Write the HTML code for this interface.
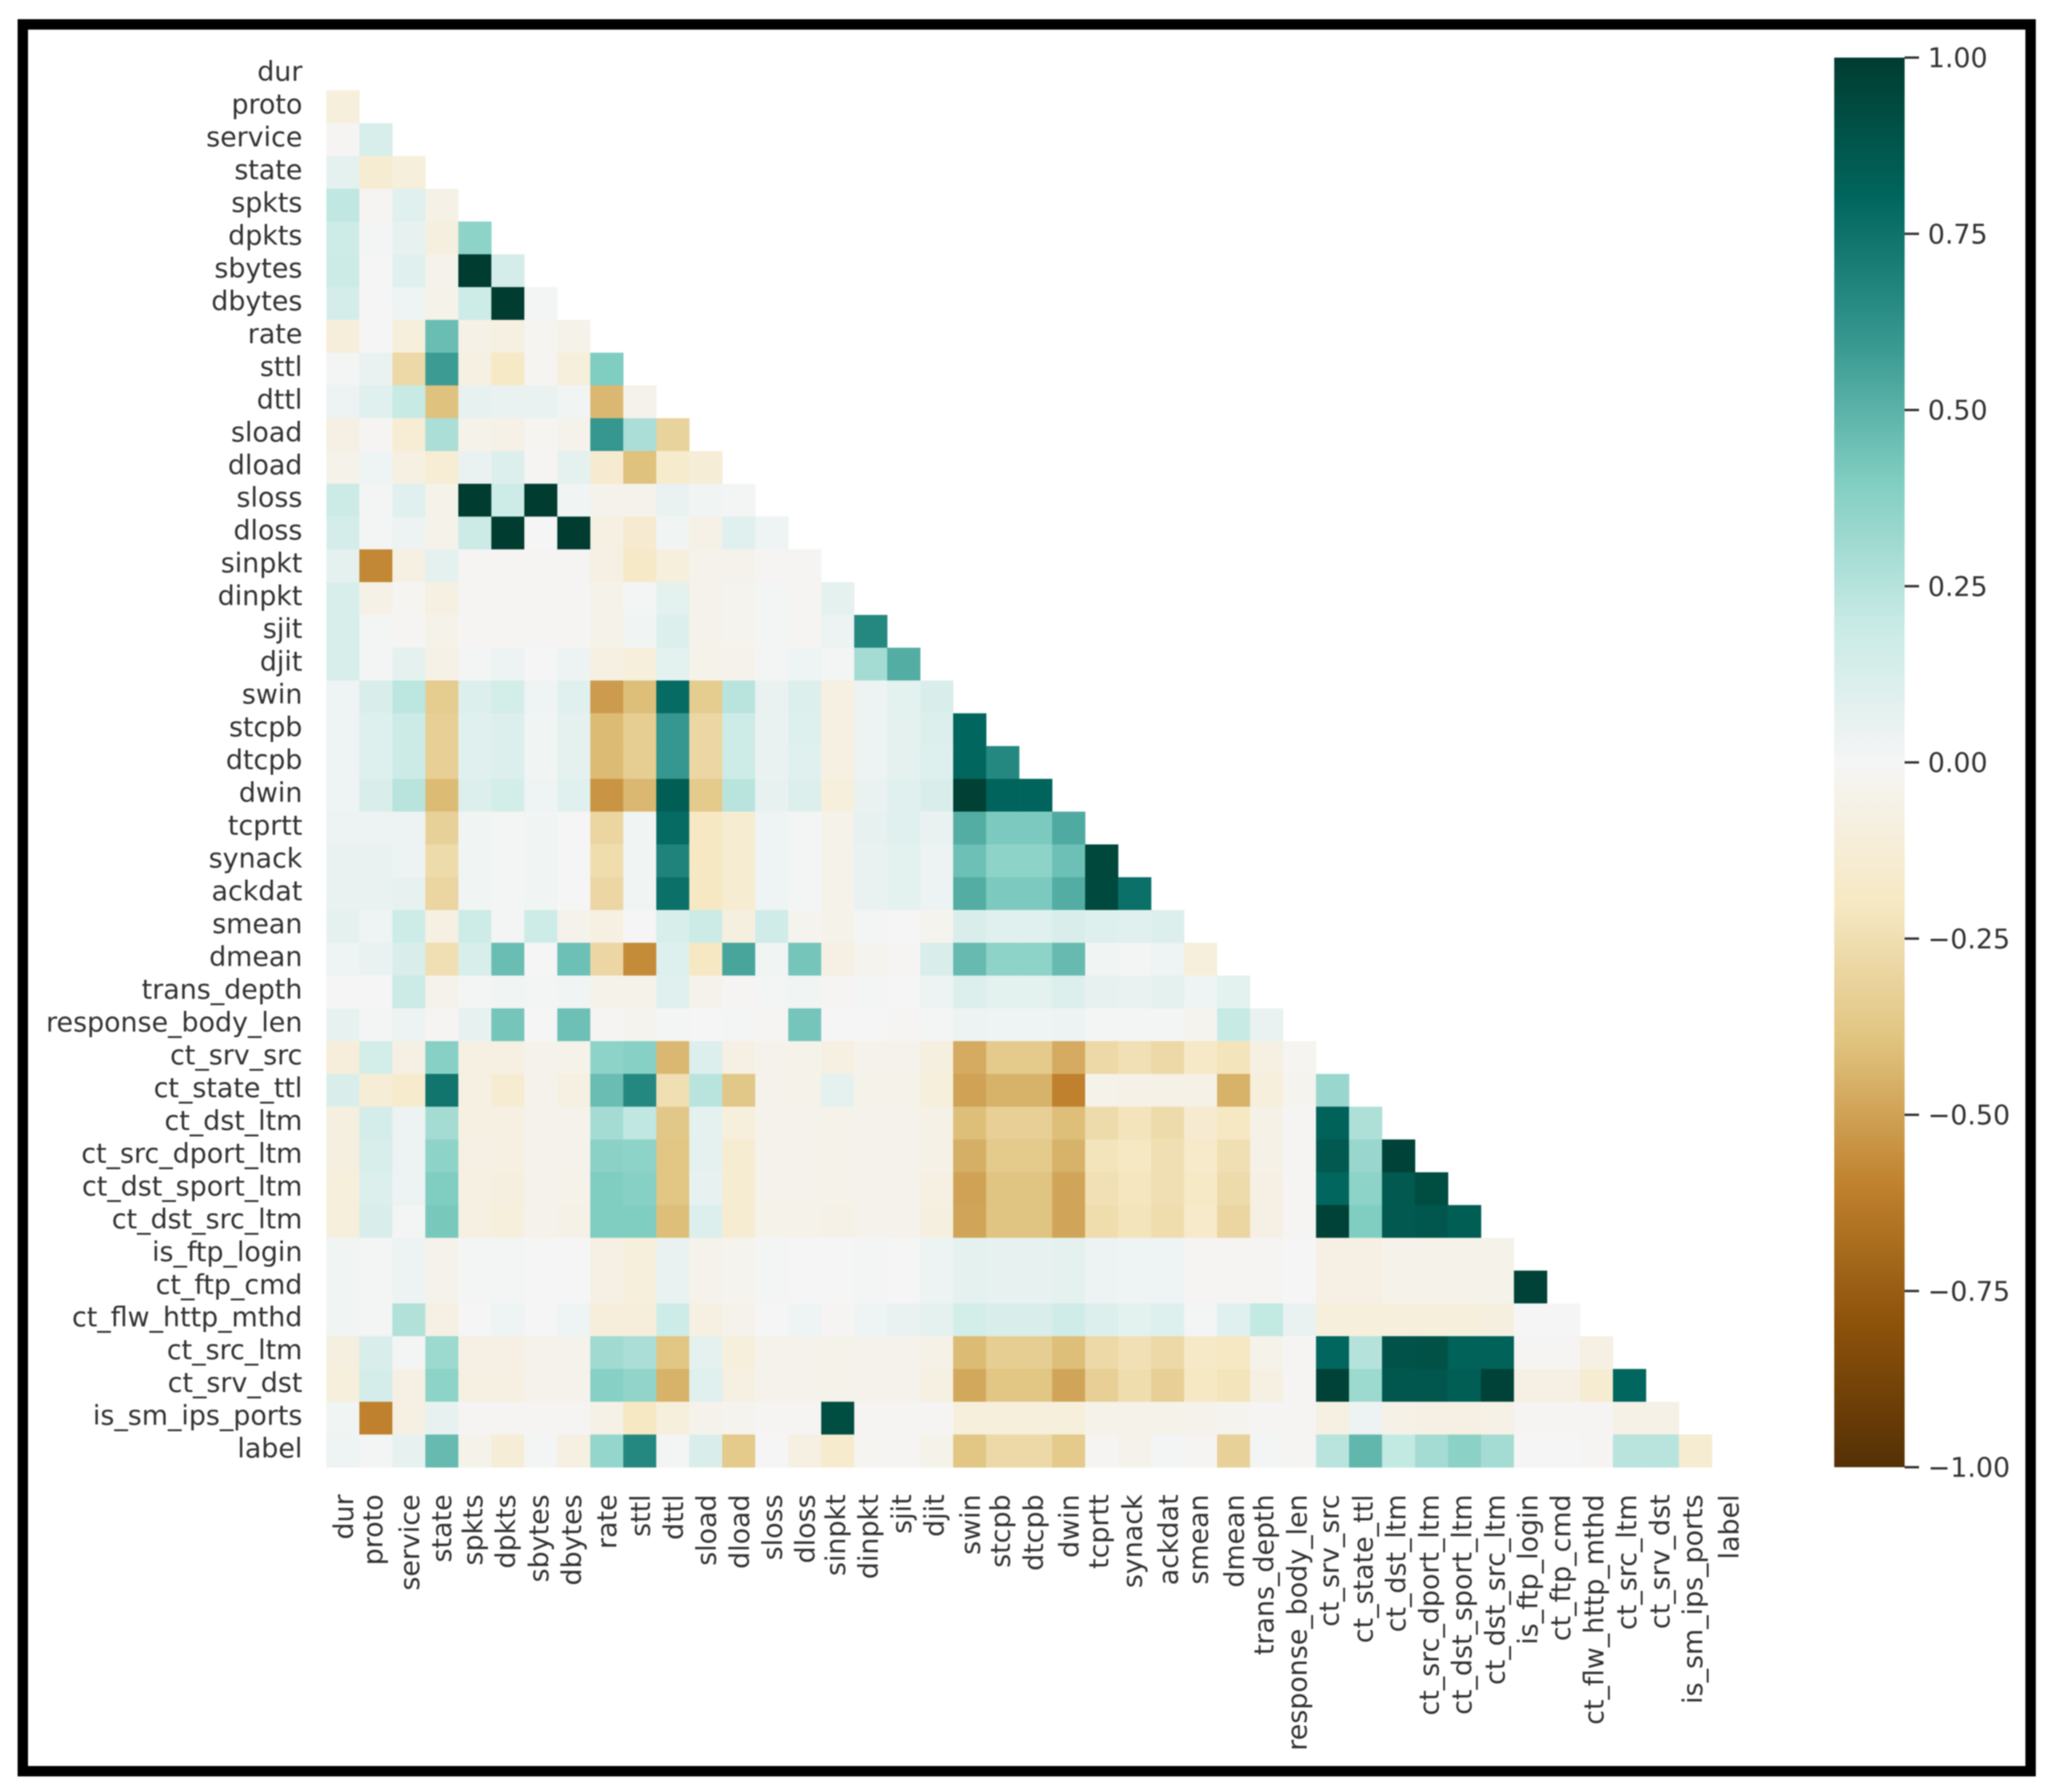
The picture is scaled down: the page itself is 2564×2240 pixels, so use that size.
<!DOCTYPE html>
<html lang="en">
<head>
<meta charset="utf-8">
<title>Feature correlation heatmap</title>
<style>
html,body{margin:0;padding:0;background:#fff;width:2564px;height:2240px;overflow:hidden}
svg{display:block;filter:blur(0.7px)}
text{font-family:"DejaVu Sans","Liberation Sans",sans-serif;font-size:33.6px;fill:#333}
</style>
</head>
<body>
<svg id="chart" xmlns="http://www.w3.org/2000/svg" width="2564" height="2240" viewBox="0 0 2564 2240">
  <defs>
    <linearGradient id="cbar-gradient" x1="0" y1="1" x2="0" y2="0"></linearGradient>
  </defs>
  <rect x="0" y="0" width="2564" height="2240" fill="#fff"></rect>
  <rect x="28.5" y="30.5" width="2510" height="2183.5" fill="#fff" stroke="#000" stroke-width="13"></rect>
  <g id="cells"></g>
  <g id="y-labels"></g>
  <g id="x-labels"></g>
  <rect id="cbar" fill="url(#cbar-gradient)"></rect>
  <g id="cbar-ticks"></g>
</svg>
<script>
const features = ["dur","proto","service","state","spkts","dpkts","sbytes","dbytes","rate","sttl","dttl","sload","dload","sloss","dloss","sinpkt","dinpkt","sjit","djit","swin","stcpb","dtcpb","dwin","tcprtt","synack","ackdat","smean","dmean","trans_depth","response_body_len","ct_srv_src","ct_state_ttl","ct_dst_ltm","ct_src_dport_ltm","ct_dst_sport_ltm","ct_dst_src_ltm","is_ftp_login","ct_ftp_cmd","ct_flw_http_mthd","ct_src_ltm","ct_srv_dst","is_sm_ips_ports","label"];

const correlations = [
[],
[-.1],
[-.01,.13],
[.07,-.14,-.1],
[.22,-.01,.09,-.06],
[.17,.01,.06,-.09,.36],
[.18,0,.09,-.04,1,.14],
[.14,0,.03,-.05,.17,1,.01],
[-.11,0,-.1,.46,-.06,-.08,-.02,-.05],
[.01,.05,-.28,.58,-.08,-.19,-.02,-.1,.4],
[.04,.09,.2,-.4,.06,.05,.05,.02,-.43,-.04],
[-.07,-.01,-.13,.28,-.05,-.06,-.02,-.04,.6,.28,-.31],
[-.05,.03,-.08,-.13,.05,.11,-.01,.07,-.15,-.4,-.16,-.12],
[.18,.01,.09,-.05,1,.17,1,.02,-.04,-.04,.05,.02,.01],
[.14,.01,.04,-.05,.18,1,0,1,-.08,-.15,.02,-.06,.09,.03],
[.07,-.58,-.08,.07,-.01,-.01,-.01,-.01,-.07,-.18,-.1,-.04,-.04,-.01,-.01],
[.13,-.06,-.02,-.08,-.01,-.01,-.01,-.01,-.05,.01,.08,-.04,-.03,.01,-.01,.07],
[.13,.01,-.01,-.05,-.01,-.01,-.01,-.01,-.05,.02,.11,-.04,-.03,.01,-.01,.04,.66],
[.13,.01,.07,-.06,.01,.04,0,.04,-.08,-.1,.08,-.05,-.04,.01,.03,.01,.3,.52],
[.03,.12,.23,-.35,.11,.15,.03,.09,-.52,-.41,.78,-.35,.24,.05,.11,-.08,.04,.08,.12],
[.03,.1,.18,-.33,.09,.11,.02,.07,-.42,-.34,.6,-.29,.17,.05,.1,-.08,.04,.07,.11,.8],
[.03,.1,.18,-.33,.09,.11,.02,.07,-.42,-.34,.6,-.29,.17,.05,.09,-.08,.04,.07,.1,.8,.66],
[.03,.12,.24,-.42,.11,.15,.03,.09,-.54,-.43,.84,-.36,.24,.06,.11,-.1,.05,.09,.12,.98,.81,.81],
[.04,.04,.035,-.32,.02,.01,.02,0,-.3,.02,.78,-.2,-.14,.03,.01,-.05,.06,.09,.05,.52,.41,.41,.53],
[.05,.05,.04,-.27,.02,.01,.02,0,-.26,.02,.68,-.2,-.14,.03,.01,-.05,.05,.08,.04,.45,.36,.36,.45,.95],
[.05,.05,.06,-.3,.02,.01,.02,0,-.29,.02,.76,-.2,-.14,.03,.01,-.05,.05,.08,.04,.52,.41,.41,.52,.94,.76],
[.07,.03,.17,-.08,.17,.01,.17,-.04,-.08,0,.13,.18,-.09,.16,-.03,-.05,.01,0,-.03,.12,.09,.09,.12,.1,.09,.11],
[.03,.05,.12,-.25,.13,.46,0,.45,-.29,-.57,.1,-.2,.55,.02,.43,-.07,-.03,-.01,.12,.47,.36,.36,.47,.02,.01,.03,-.1],
[0,0,.18,-.04,.01,.02,.01,.02,-.05,-.05,.09,-.04,-.01,.01,.02,-.01,.01,0,.04,.11,.08,.08,.11,.06,.05,.07,.03,.08],
[.06,.01,.04,-.01,.06,.43,0,.45,-.01,-.03,.01,0,.01,-.01,.43,0,0,-.01,.01,.04,.03,.03,.04,.01,.01,.01,-.03,.2,.05],
[-.11,.15,-.07,.38,-.08,-.08,-.04,-.05,.36,.38,-.43,.11,-.07,-.04,-.05,-.08,-.04,-.04,-.09,-.47,-.36,-.36,-.47,-.28,-.24,-.28,-.18,-.22,-.08,-.02],
[.12,-.12,-.16,.74,-.08,-.14,-.04,-.08,.46,.66,-.25,.24,-.37,-.04,-.05,.07,-.05,-.05,-.1,-.5,-.45,-.45,-.6,-.05,-.06,-.06,-.06,-.45,-.1,-.03,.33],
[-.09,.14,.04,.3,-.08,-.08,-.04,-.04,.3,.22,-.37,.07,-.1,-.04,-.04,-.05,-.04,-.04,-.06,-.41,-.33,-.33,-.41,-.27,-.22,-.27,-.15,-.2,-.06,-.01,.82,.27],
[-.09,.13,.04,.36,-.07,-.08,-.04,-.04,.37,.36,-.38,.07,-.14,-.04,-.04,-.05,-.04,-.04,-.06,-.46,-.36,-.36,-.45,-.22,-.2,-.25,-.17,-.25,-.06,-.01,.86,.33,.97],
[-.1,.11,.04,.4,-.08,-.09,-.04,-.05,.4,.38,-.38,.06,-.14,-.04,-.04,-.05,-.04,-.04,-.08,-.5,-.39,-.39,-.49,-.24,-.21,-.25,-.19,-.27,-.07,-.01,.8,.36,.86,.92],
[-.1,.12,.01,.42,-.08,-.1,-.04,-.06,.4,.4,-.41,.11,-.14,-.05,-.05,-.06,-.04,-.04,-.09,-.49,-.39,-.39,-.49,-.26,-.22,-.26,-.17,-.3,-.07,-.01,.97,.4,.86,.87,.84],
[.02,.01,.04,-.04,.01,.01,0,0,-.07,-.1,.05,-.04,-.03,.01,0,0,.01,0,.04,.07,.06,.06,.07,.04,.03,.03,-.01,-.01,-.01,0,-.07,-.07,-.05,-.05,-.05,-.05],
[.02,.01,.04,-.04,.01,.01,0,0,-.07,-.1,.05,-.04,-.03,.01,0,0,.01,0,.04,.07,.06,.06,.07,.04,.03,.03,-.01,-.01,-.01,0,-.07,-.07,-.05,-.05,-.05,-.05,.97],
[.02,.01,.26,-.07,0,.03,0,.03,-.11,-.11,.17,-.08,-.04,0,.03,-.01,.03,.05,.07,.15,.12,.12,.16,.11,.08,.1,.01,.09,.21,.05,-.1,-.1,-.1,-.1,-.1,-.09,0,0],
[-.09,.12,.01,.32,-.07,-.07,-.04,-.04,.31,.28,-.38,.07,-.1,-.04,-.04,-.05,-.04,-.04,-.06,-.42,-.34,-.34,-.41,-.28,-.24,-.28,-.18,-.2,-.05,-.01,.8,.25,.89,.9,.82,.82,-.01,-.01,-.07],
[-.1,.14,-.07,.36,-.08,-.08,-.04,-.04,.38,.35,-.45,.09,-.08,-.04,-.04,-.05,-.04,-.04,-.08,-.48,-.38,-.38,-.49,-.33,-.26,-.33,-.2,-.22,-.08,-.01,.97,.32,.87,.87,.84,.97,-.07,-.07,-.14,.8],
[.02,-.6,-.08,.06,-.01,-.01,-.01,-.01,-.06,-.2,-.1,-.04,-.03,-.01,-.01,.92,-.01,-.01,-.01,-.1,-.1,-.1,-.1,-.05,-.05,-.05,-.04,-.03,-.01,-.01,-.08,.04,-.06,-.07,-.07,-.06,-.01,-.01,-.01,-.06,-.06],
[.03,.01,.06,.47,-.05,-.12,.01,-.08,.34,.66,.01,.12,-.36,0,-.08,-.16,-.02,-.01,-.05,-.38,-.28,-.28,-.36,-.01,-.04,.01,-.01,-.32,.01,-.01,.24,.48,.21,.3,.37,.3,0,0,-.01,.24,.24,-.14]
];

const cbarTicks = [1, 0.75, 0.5, 0.25, 0, -0.25, -0.5, -0.75, -1];
const cbarTickLabels = ["1.00", "0.75", "0.50", "0.25", "0.00", "\u22120.25", "\u22120.50", "\u22120.75", "\u22121.00"];
const colormap = ["#543005","#8c510a","#bf812d","#dfc27d","#f6e8c3","#f5f5f5","#c7eae5","#80cdc1","#35978f","#01665e","#003c30"];

const SVGNS = "http://www.w3.org/2000/svg";
const heat = {left: 408, top: 72, colWidth: 41.24, rowHeight: 40.98};
const bar = {left: 2293, right: 2381, top: 72, bottom: 1834};

function xScale(col) { return heat.left + col * heat.colWidth; }
function yScale(row) { return heat.top + row * heat.rowHeight; }
function barScale(v) { return bar.bottom - (v + 1) / 2 * (bar.bottom - bar.top); }

function hexToRgb(h) {
  return [parseInt(h.slice(1, 3), 16), parseInt(h.slice(3, 5), 16), parseInt(h.slice(5, 7), 16)];
}
function colorFor(v) {
  const t = Math.max(0, Math.min(1, (v + 1) / 2)) * (colormap.length - 1);
  const i = Math.min(colormap.length - 2, Math.floor(t));
  const a = hexToRgb(colormap[i]);
  const b = hexToRgb(colormap[i + 1]);
  const f = t - i;
  return "rgb(" + a.map(function (c, k) { return Math.round(c + (b[k] - c) * f); }).join(",") + ")";
}

/* vertical centring of a rotated label, from its ascender/descender extent */
function labelBaselineOffset(s) {
  const top = /[bdfhijkl]/.test(s) ? 0.76 : (/t/.test(s) ? 0.7 : 0.547);
  const bottom = /_/.test(s) ? 0.24 : (/[gjpqy]/.test(s) ? 0.21 : 0);
  return (top - bottom) / 2 * 33.6;
}

const cellsGroup = document.getElementById("cells");
correlations.forEach(function (row, r) {
  row.forEach(function (value, c) {
    const cell = document.createElementNS(SVGNS, "rect");
    cell.setAttribute("x", xScale(c));
    cell.setAttribute("y", yScale(r));
    cell.setAttribute("width", heat.colWidth + 0.3);
    cell.setAttribute("height", heat.rowHeight + 0.3);
    cell.setAttribute("fill", colorFor(value));
    
    
    cellsGroup.appendChild(cell);
  });
});

const yGroup = document.getElementById("y-labels");
features.forEach(function (name, i) {
  const t = document.createElementNS(SVGNS, "text");
  t.setAttribute("x", 378);
  t.setAttribute("y", yScale(i) + heat.rowHeight / 2 + 8.5);
  t.setAttribute("text-anchor", "end");
  
  
  t.textContent = name;
  yGroup.appendChild(t);
});

const xGroup = document.getElementById("x-labels");
features.forEach(function (name, i) {
  const t = document.createElementNS(SVGNS, "text");
  const px = xScale(i) + heat.colWidth / 2 + labelBaselineOffset(name);
  t.setAttribute("transform", "translate(" + px + ",1868) rotate(-90)");
  t.setAttribute("text-anchor", "end");
  
  
  t.textContent = name;
  xGroup.appendChild(t);
});

const grad = document.getElementById("cbar-gradient");
colormap.forEach(function (color, i) {
  const stop = document.createElementNS(SVGNS, "stop");
  stop.setAttribute("offset", i / (colormap.length - 1));
  stop.setAttribute("stop-color", color);
  grad.appendChild(stop);
});
const cbar = document.getElementById("cbar");
cbar.setAttribute("x", bar.left);
cbar.setAttribute("y", bar.top);
cbar.setAttribute("width", bar.right - bar.left);
cbar.setAttribute("height", bar.bottom - bar.top);

const tickGroup = document.getElementById("cbar-ticks");
cbarTicks.forEach(function (v, i) {
  const y = barScale(v);
  const line = document.createElementNS(SVGNS, "line");
  line.setAttribute("x1", bar.right);
  line.setAttribute("x2", bar.right + 18);
  line.setAttribute("y1", y);
  line.setAttribute("y2", y);
  line.setAttribute("stroke", "#333");
  line.setAttribute("stroke-width", 3);
  
  
  tickGroup.appendChild(line);
  const t = document.createElementNS(SVGNS, "text");
  t.setAttribute("x", 2410);
  t.setAttribute("y", y + 12);
  
  
  t.textContent = cbarTickLabels[i];
  tickGroup.appendChild(t);
});
</script>
</body>
</html>
